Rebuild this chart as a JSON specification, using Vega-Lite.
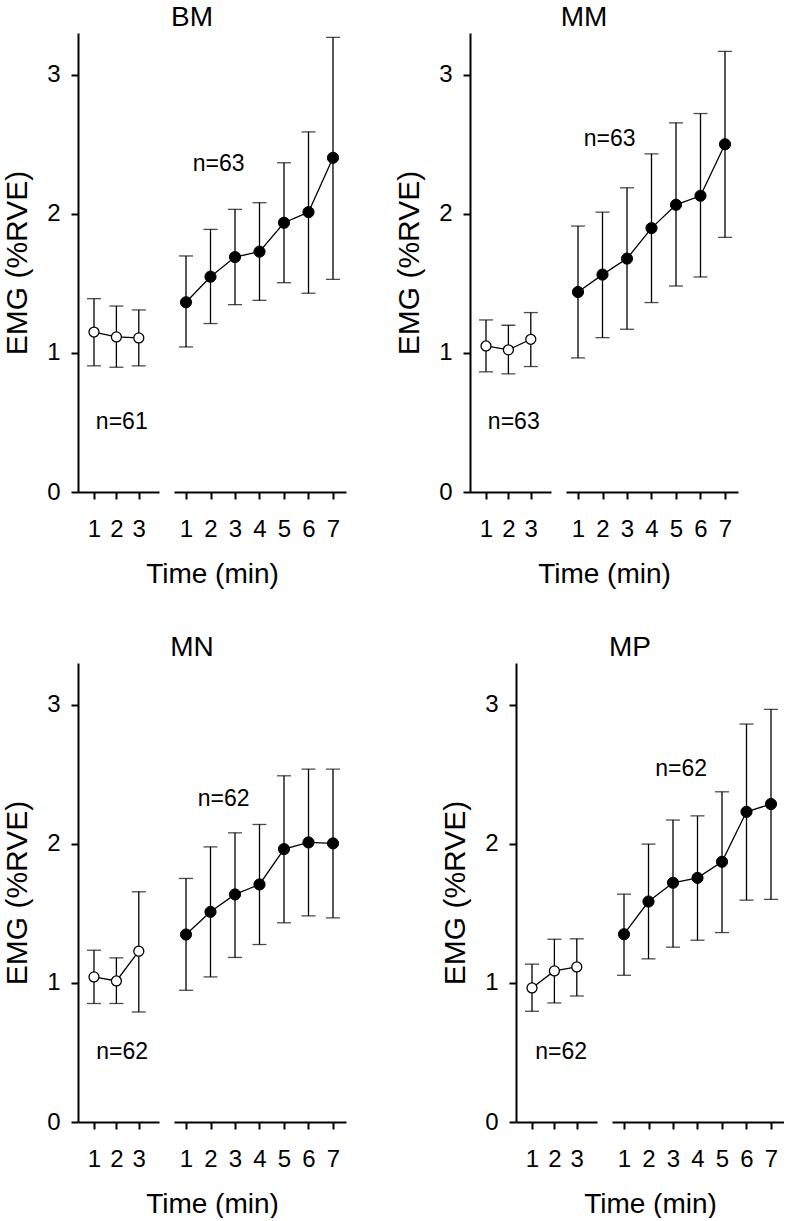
{
"$schema": "https://vega.github.io/schema/vega-lite/v6.json",
"padding": {"left": 2, "top": 4, "right": 0, "bottom": 0},
"datasets": {
"pts": [
{"panel":"BM","phase":"base","minute":1,"mean":1.150,"lo":0.907,"hi":1.390},
{"panel":"BM","phase":"base","minute":2,"mean":1.115,"lo":0.897,"hi":1.337},
{"panel":"BM","phase":"base","minute":3,"mean":1.108,"lo":0.907,"hi":1.309},
{"panel":"BM","phase":"ex","minute":1,"mean":1.364,"lo":1.043,"hi":1.697},
{"panel":"BM","phase":"ex","minute":2,"mean":1.548,"lo":1.211,"hi":1.888},
{"panel":"BM","phase":"ex","minute":3,"mean":1.689,"lo":1.347,"hi":2.032},
{"panel":"BM","phase":"ex","minute":4,"mean":1.728,"lo":1.378,"hi":2.080},
{"panel":"BM","phase":"ex","minute":5,"mean":1.936,"lo":1.505,"hi":2.367},
{"panel":"BM","phase":"ex","minute":6,"mean":2.012,"lo":1.429,"hi":2.589},
{"panel":"BM","phase":"ex","minute":7,"mean":2.403,"lo":1.529,"hi":3.269},
{"panel":"MM","phase":"base","minute":1,"mean":1.050,"lo":0.864,"hi":1.237},
{"panel":"MM","phase":"base","minute":2,"mean":1.022,"lo":0.849,"hi":1.199},
{"panel":"MM","phase":"base","minute":3,"mean":1.098,"lo":0.902,"hi":1.290},
{"panel":"MM","phase":"ex","minute":1,"mean":1.438,"lo":0.964,"hi":1.912},
{"panel":"MM","phase":"ex","minute":2,"mean":1.563,"lo":1.110,"hi":2.012},
{"panel":"MM","phase":"ex","minute":3,"mean":1.678,"lo":1.170,"hi":2.187},
{"panel":"MM","phase":"ex","minute":4,"mean":1.897,"lo":1.362,"hi":2.431},
{"panel":"MM","phase":"ex","minute":5,"mean":2.065,"lo":1.481,"hi":2.654},
{"panel":"MM","phase":"ex","minute":6,"mean":2.130,"lo":1.546,"hi":2.721},
{"panel":"MM","phase":"ex","minute":7,"mean":2.500,"lo":1.831,"hi":3.168},
{"panel":"MN","phase":"base","minute":1,"mean":1.043,"lo":0.852,"hi":1.235},
{"panel":"MN","phase":"base","minute":2,"mean":1.014,"lo":0.852,"hi":1.180},
{"panel":"MN","phase":"base","minute":3,"mean":1.228,"lo":0.791,"hi":1.655},
{"panel":"MN","phase":"ex","minute":1,"mean":1.348,"lo":0.947,"hi":1.751},
{"panel":"MN","phase":"ex","minute":2,"mean":1.511,"lo":1.043,"hi":1.978},
{"panel":"MN","phase":"ex","minute":3,"mean":1.636,"lo":1.183,"hi":2.079},
{"panel":"MN","phase":"ex","minute":4,"mean":1.708,"lo":1.276,"hi":2.139},
{"panel":"MN","phase":"ex","minute":5,"mean":1.962,"lo":1.432,"hi":2.489},
{"panel":"MN","phase":"ex","minute":6,"mean":2.010,"lo":1.482,"hi":2.537},
{"panel":"MN","phase":"ex","minute":7,"mean":2.003,"lo":1.468,"hi":2.537},
{"panel":"MP","phase":"base","minute":1,"mean":0.964,"lo":0.796,"hi":1.135},
{"panel":"MP","phase":"base","minute":2,"mean":1.086,"lo":0.856,"hi":1.314},
{"panel":"MP","phase":"base","minute":3,"mean":1.115,"lo":0.906,"hi":1.317},
{"panel":"MP","phase":"ex","minute":1,"mean":1.350,"lo":1.055,"hi":1.638},
{"panel":"MP","phase":"ex","minute":2,"mean":1.585,"lo":1.173,"hi":1.998},
{"panel":"MP","phase":"ex","minute":3,"mean":1.720,"lo":1.257,"hi":2.171},
{"panel":"MP","phase":"ex","minute":4,"mean":1.755,"lo":1.307,"hi":2.201},
{"panel":"MP","phase":"ex","minute":5,"mean":1.871,"lo":1.362,"hi":2.374},
{"panel":"MP","phase":"ex","minute":6,"mean":2.230,"lo":1.595,"hi":2.861},
{"panel":"MP","phase":"ex","minute":7,"mean":2.286,"lo":1.600,"hi":2.967}
],
"notes": [
{"panel":"BM","phase":"base","minute":2.24,"yv":0.50,"label":"n=61"},
{"panel":"BM","phase":"ex","minute":2.33,"yv":2.36,"label":"n=63"},
{"panel":"MM","phase":"base","minute":2.24,"yv":0.50,"label":"n=63"},
{"panel":"MM","phase":"ex","minute":2.29,"yv":2.54,"label":"n=63"},
{"panel":"MN","phase":"base","minute":2.26,"yv":0.50,"label":"n=62"},
{"panel":"MN","phase":"ex","minute":2.54,"yv":2.32,"label":"n=62"},
{"panel":"MP","phase":"base","minute":2.30,"yv":0.50,"label":"n=62"},
{"panel":"MP","phase":"ex","minute":3.33,"yv":2.54,"label":"n=62"}
]
},
"vconcat": [
{
"bounds": "flush",
"spacing": 124,
"hconcat": [
{
"width": 268, "height": 459,
"title": {"text": "BM", "dx": -20},
"resolve": {"scale": {"x": "independent"}, "axis": {"x": "independent"}},
"layer": [
{
"data": {"name": "pts"},
"transform": [{"filter": "datum.panel === 'BM' && datum.phase === 'base'"}],
"encoding": {"x": {"field": "minute", "type": "quantitative", "scale": {"domain": [0.286, 3.902], "range": [0, 81], "nice": false, "zero": false}, "axis": {"orient": "bottom", "values": [1, 2, 3], "format": "d", "title": null}}},
"layer": [
{"mark": {"type": "errorbar", "color": "black", "ticks": {"size": 14, "thickness": 1.3, "color": "black"}, "rule": {"strokeWidth": 1.3, "color": "black"}}, "encoding": {"y": {"field": "lo", "type": "quantitative", "title": "EMG (%RVE)", "scale": {"domain": [0, 3.3], "nice": false, "zero": true}, "axis": {"values": [0, 1, 2, 3], "format": "d"}}, "y2": {"field": "hi"}}},
{"mark": {"type": "line", "color": "black", "strokeWidth": 1.3}, "encoding": {"y": {"field": "mean", "type": "quantitative", "title": "EMG (%RVE)"}}},
{"mark": {"type": "point", "shape": "circle", "filled": true, "fill": "white", "stroke": "black", "strokeWidth": 1.3, "size": 100, "opacity": 1}, "encoding": {"y": {"field": "mean", "type": "quantitative", "title": "EMG (%RVE)"}}},
{"data": {"name": "notes"}, "transform": [{"filter": "datum.panel === 'BM' && datum.phase === 'base'"}], "mark": {"type": "text", "fontSize": 23, "color": "black", "align": "center", "baseline": "middle"}, "encoding": {"y": {"field": "yv", "type": "quantitative", "title": "EMG (%RVE)"}, "text": {"field": "label"}}}
]
},
{
"data": {"name": "pts"},
"transform": [{"filter": "datum.panel === 'BM' && datum.phase === 'ex'"}],
"encoding": {"x": {"field": "minute", "type": "quantitative", "scale": {"domain": [0.51, 7.531], "range": [96, 268], "nice": false, "zero": false}, "axis": {"orient": "bottom", "values": [1, 2, 3, 4, 5, 6, 7], "format": "d", "title": "Time (min)", "titleX": 134, "titleY": 68}}},
"layer": [
{"mark": {"type": "errorbar", "color": "black", "ticks": {"size": 14, "thickness": 1.3, "color": "black"}, "rule": {"strokeWidth": 1.3, "color": "black"}}, "encoding": {"y": {"field": "lo", "type": "quantitative", "title": "EMG (%RVE)"}, "y2": {"field": "hi"}}},
{"mark": {"type": "line", "color": "black", "strokeWidth": 1.3}, "encoding": {"y": {"field": "mean", "type": "quantitative", "title": "EMG (%RVE)"}}},
{"mark": {"type": "point", "shape": "circle", "filled": true, "fill": "black", "stroke": "black", "strokeWidth": 1, "size": 125, "opacity": 1}, "encoding": {"y": {"field": "mean", "type": "quantitative", "title": "EMG (%RVE)"}}},
{"data": {"name": "notes"}, "transform": [{"filter": "datum.panel === 'BM' && datum.phase === 'ex'"}], "mark": {"type": "text", "fontSize": 23, "color": "black", "align": "center", "baseline": "middle"}, "encoding": {"y": {"field": "yv", "type": "quantitative", "title": "EMG (%RVE)"}, "text": {"field": "label"}}}
]
}
]
},
{
"width": 268, "height": 459,
"title": {"text": "MM", "dx": -20},
"resolve": {"scale": {"x": "independent"}, "axis": {"x": "independent"}},
"layer": [
{
"data": {"name": "pts"},
"transform": [{"filter": "datum.panel === 'MM' && datum.phase === 'base'"}],
"encoding": {"x": {"field": "minute", "type": "quantitative", "scale": {"domain": [0.286, 3.902], "range": [0, 81], "nice": false, "zero": false}, "axis": {"orient": "bottom", "values": [1, 2, 3], "format": "d", "title": null}}},
"layer": [
{"mark": {"type": "errorbar", "color": "black", "ticks": {"size": 14, "thickness": 1.3, "color": "black"}, "rule": {"strokeWidth": 1.3, "color": "black"}}, "encoding": {"y": {"field": "lo", "type": "quantitative", "title": "EMG (%RVE)", "scale": {"domain": [0, 3.3], "nice": false, "zero": true}, "axis": {"values": [0, 1, 2, 3], "format": "d"}}, "y2": {"field": "hi"}}},
{"mark": {"type": "line", "color": "black", "strokeWidth": 1.3}, "encoding": {"y": {"field": "mean", "type": "quantitative", "title": "EMG (%RVE)"}}},
{"mark": {"type": "point", "shape": "circle", "filled": true, "fill": "white", "stroke": "black", "strokeWidth": 1.3, "size": 100, "opacity": 1}, "encoding": {"y": {"field": "mean", "type": "quantitative", "title": "EMG (%RVE)"}}},
{"data": {"name": "notes"}, "transform": [{"filter": "datum.panel === 'MM' && datum.phase === 'base'"}], "mark": {"type": "text", "fontSize": 23, "color": "black", "align": "center", "baseline": "middle"}, "encoding": {"y": {"field": "yv", "type": "quantitative", "title": "EMG (%RVE)"}, "text": {"field": "label"}}}
]
},
{
"data": {"name": "pts"},
"transform": [{"filter": "datum.panel === 'MM' && datum.phase === 'ex'"}],
"encoding": {"x": {"field": "minute", "type": "quantitative", "scale": {"domain": [0.51, 7.531], "range": [96, 268], "nice": false, "zero": false}, "axis": {"orient": "bottom", "values": [1, 2, 3, 4, 5, 6, 7], "format": "d", "title": "Time (min)", "titleX": 134, "titleY": 68}}},
"layer": [
{"mark": {"type": "errorbar", "color": "black", "ticks": {"size": 14, "thickness": 1.3, "color": "black"}, "rule": {"strokeWidth": 1.3, "color": "black"}}, "encoding": {"y": {"field": "lo", "type": "quantitative", "title": "EMG (%RVE)"}, "y2": {"field": "hi"}}},
{"mark": {"type": "line", "color": "black", "strokeWidth": 1.3}, "encoding": {"y": {"field": "mean", "type": "quantitative", "title": "EMG (%RVE)"}}},
{"mark": {"type": "point", "shape": "circle", "filled": true, "fill": "black", "stroke": "black", "strokeWidth": 1, "size": 125, "opacity": 1}, "encoding": {"y": {"field": "mean", "type": "quantitative", "title": "EMG (%RVE)"}}},
{"data": {"name": "notes"}, "transform": [{"filter": "datum.panel === 'MM' && datum.phase === 'ex'"}], "mark": {"type": "text", "fontSize": 23, "color": "black", "align": "center", "baseline": "middle"}, "encoding": {"y": {"field": "yv", "type": "quantitative", "title": "EMG (%RVE)"}, "text": {"field": "label"}}}
]
}
]
}
]
},
{
"bounds": "flush",
"spacing": 170,
"hconcat": [
{
"width": 268, "height": 459,
"title": {"text": "MN", "dx": -20},
"resolve": {"scale": {"x": "independent"}, "axis": {"x": "independent"}},
"layer": [
{
"data": {"name": "pts"},
"transform": [{"filter": "datum.panel === 'MN' && datum.phase === 'base'"}],
"encoding": {"x": {"field": "minute", "type": "quantitative", "scale": {"domain": [0.286, 3.902], "range": [0, 81], "nice": false, "zero": false}, "axis": {"orient": "bottom", "values": [1, 2, 3], "format": "d", "title": null}}},
"layer": [
{"mark": {"type": "errorbar", "color": "black", "ticks": {"size": 14, "thickness": 1.3, "color": "black"}, "rule": {"strokeWidth": 1.3, "color": "black"}}, "encoding": {"y": {"field": "lo", "type": "quantitative", "title": "EMG (%RVE)", "scale": {"domain": [0, 3.3], "nice": false, "zero": true}, "axis": {"values": [0, 1, 2, 3], "format": "d"}}, "y2": {"field": "hi"}}},
{"mark": {"type": "line", "color": "black", "strokeWidth": 1.3}, "encoding": {"y": {"field": "mean", "type": "quantitative", "title": "EMG (%RVE)"}}},
{"mark": {"type": "point", "shape": "circle", "filled": true, "fill": "white", "stroke": "black", "strokeWidth": 1.3, "size": 100, "opacity": 1}, "encoding": {"y": {"field": "mean", "type": "quantitative", "title": "EMG (%RVE)"}}},
{"data": {"name": "notes"}, "transform": [{"filter": "datum.panel === 'MN' && datum.phase === 'base'"}], "mark": {"type": "text", "fontSize": 23, "color": "black", "align": "center", "baseline": "middle"}, "encoding": {"y": {"field": "yv", "type": "quantitative", "title": "EMG (%RVE)"}, "text": {"field": "label"}}}
]
},
{
"data": {"name": "pts"},
"transform": [{"filter": "datum.panel === 'MN' && datum.phase === 'ex'"}],
"encoding": {"x": {"field": "minute", "type": "quantitative", "scale": {"domain": [0.51, 7.531], "range": [96, 268], "nice": false, "zero": false}, "axis": {"orient": "bottom", "values": [1, 2, 3, 4, 5, 6, 7], "format": "d", "title": "Time (min)", "titleX": 134, "titleY": 68}}},
"layer": [
{"mark": {"type": "errorbar", "color": "black", "ticks": {"size": 14, "thickness": 1.3, "color": "black"}, "rule": {"strokeWidth": 1.3, "color": "black"}}, "encoding": {"y": {"field": "lo", "type": "quantitative", "title": "EMG (%RVE)"}, "y2": {"field": "hi"}}},
{"mark": {"type": "line", "color": "black", "strokeWidth": 1.3}, "encoding": {"y": {"field": "mean", "type": "quantitative", "title": "EMG (%RVE)"}}},
{"mark": {"type": "point", "shape": "circle", "filled": true, "fill": "black", "stroke": "black", "strokeWidth": 1, "size": 125, "opacity": 1}, "encoding": {"y": {"field": "mean", "type": "quantitative", "title": "EMG (%RVE)"}}},
{"data": {"name": "notes"}, "transform": [{"filter": "datum.panel === 'MN' && datum.phase === 'ex'"}], "mark": {"type": "text", "fontSize": 23, "color": "black", "align": "center", "baseline": "middle"}, "encoding": {"y": {"field": "yv", "type": "quantitative", "title": "EMG (%RVE)"}, "text": {"field": "label"}}}
]
}
]
},
{
"width": 268, "height": 459,
"title": {"text": "MP", "dx": -20},
"resolve": {"scale": {"x": "independent"}, "axis": {"x": "independent"}},
"layer": [
{
"data": {"name": "pts"},
"transform": [{"filter": "datum.panel === 'MP' && datum.phase === 'base'"}],
"encoding": {"x": {"field": "minute", "type": "quantitative", "scale": {"domain": [0.286, 3.902], "range": [0, 81], "nice": false, "zero": false}, "axis": {"orient": "bottom", "values": [1, 2, 3], "format": "d", "title": null}}},
"layer": [
{"mark": {"type": "errorbar", "color": "black", "ticks": {"size": 14, "thickness": 1.3, "color": "black"}, "rule": {"strokeWidth": 1.3, "color": "black"}}, "encoding": {"y": {"field": "lo", "type": "quantitative", "title": "EMG (%RVE)", "scale": {"domain": [0, 3.3], "nice": false, "zero": true}, "axis": {"values": [0, 1, 2, 3], "format": "d"}}, "y2": {"field": "hi"}}},
{"mark": {"type": "line", "color": "black", "strokeWidth": 1.3}, "encoding": {"y": {"field": "mean", "type": "quantitative", "title": "EMG (%RVE)"}}},
{"mark": {"type": "point", "shape": "circle", "filled": true, "fill": "white", "stroke": "black", "strokeWidth": 1.3, "size": 100, "opacity": 1}, "encoding": {"y": {"field": "mean", "type": "quantitative", "title": "EMG (%RVE)"}}},
{"data": {"name": "notes"}, "transform": [{"filter": "datum.panel === 'MP' && datum.phase === 'base'"}], "mark": {"type": "text", "fontSize": 23, "color": "black", "align": "center", "baseline": "middle"}, "encoding": {"y": {"field": "yv", "type": "quantitative", "title": "EMG (%RVE)"}, "text": {"field": "label"}}}
]
},
{
"data": {"name": "pts"},
"transform": [{"filter": "datum.panel === 'MP' && datum.phase === 'ex'"}],
"encoding": {"x": {"field": "minute", "type": "quantitative", "scale": {"domain": [0.51, 7.531], "range": [96, 268], "nice": false, "zero": false}, "axis": {"orient": "bottom", "values": [1, 2, 3, 4, 5, 6, 7], "format": "d", "title": "Time (min)", "titleX": 134, "titleY": 68}}},
"layer": [
{"mark": {"type": "errorbar", "color": "black", "ticks": {"size": 14, "thickness": 1.3, "color": "black"}, "rule": {"strokeWidth": 1.3, "color": "black"}}, "encoding": {"y": {"field": "lo", "type": "quantitative", "title": "EMG (%RVE)"}, "y2": {"field": "hi"}}},
{"mark": {"type": "line", "color": "black", "strokeWidth": 1.3}, "encoding": {"y": {"field": "mean", "type": "quantitative", "title": "EMG (%RVE)"}}},
{"mark": {"type": "point", "shape": "circle", "filled": true, "fill": "black", "stroke": "black", "strokeWidth": 1, "size": 125, "opacity": 1}, "encoding": {"y": {"field": "mean", "type": "quantitative", "title": "EMG (%RVE)"}}},
{"data": {"name": "notes"}, "transform": [{"filter": "datum.panel === 'MP' && datum.phase === 'ex'"}], "mark": {"type": "text", "fontSize": 23, "color": "black", "align": "center", "baseline": "middle"}, "encoding": {"y": {"field": "yv", "type": "quantitative", "title": "EMG (%RVE)"}, "text": {"field": "label"}}}
]
}
]
}
]
}
],
"spacing": 46,
"config": {
"font": "Liberation Sans",
"view": {"stroke": null},
"axis": {"grid": false, "domainColor": "black", "domainWidth": 2, "tickColor": "black", "tickWidth": 2, "tickSize": 7, "labelColor": "black", "labelFont": "Liberation Sans", "labelFontSize": 24, "titleFont": "Liberation Sans", "titleFontSize": 28, "titleFontWeight": "normal", "titleColor": "black"},
"axisX": {"labelPadding": 18, "labelAngle": 0},
"axisY": {"labelPadding": 11, "titlePadding": 14, "titleFontSize": 30},
"title": {"font": "Liberation Sans", "fontSize": 28, "fontWeight": "normal", "color": "black", "anchor": "middle", "frame": "group", "offset": 1}
}
}
